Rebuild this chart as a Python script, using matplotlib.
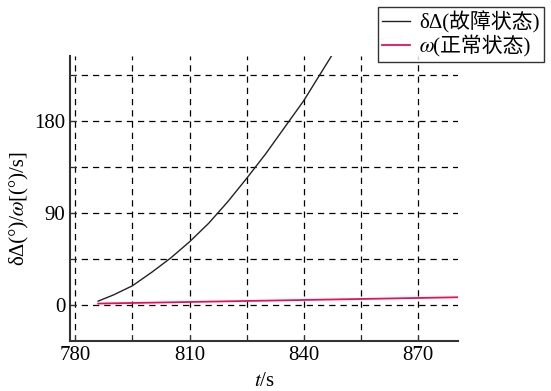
import numpy as np
import matplotlib
matplotlib.use("Agg")
import matplotlib.pyplot as plt
from matplotlib.ticker import MultipleLocator

plt.rcParams['font.family'] = ['Liberation Serif', 'STIXGeneral', 'Noto Sans CJK SC']
plt.rcParams['mathtext.fontset'] = 'stix'

# fault-state curve
t_fault = [786, 790, 795, 800, 805, 810, 815, 820, 825, 830, 835, 840, 845, 848]
d_fault = [4, 10, 19, 32, 46, 62, 80, 101, 124, 148, 174, 200, 230, 248]

# normal-state curve
t_norm = [786, 800, 820, 840, 860, 881]
w_norm = [1.6, 2.5, 3.8, 5.1, 6.4, 7.8]

OMEGA = '\U0001D714'

fig = plt.figure(figsize=(5.51, 3.91), dpi=100)
ax = fig.add_axes([70/551, 1-341/391, (458-70)/551, (341-56)/391])

ax.plot(t_fault, d_fault, color='#222222', lw=1.0, label='δΔ(故障状态)')
ax.plot(t_norm, w_norm, color='#e6105a', lw=1.3, label=OMEGA + '(正常状态)')

ax.set_xlim(778.6, 880.5)
ax.set_ylim(-35, 243.6)
ax.xaxis.set_major_locator(MultipleLocator(30))
ax.xaxis.set_minor_locator(MultipleLocator(15))
ax.yaxis.set_major_locator(MultipleLocator(90))
ax.yaxis.set_minor_locator(MultipleLocator(45))
ax.grid(True, which='both', color='black', linestyle=(0, (5, 4)), lw=0.9)
ax.tick_params(which='both', direction='in', length=4, labelsize=15, color='#333333')

for s in ['top', 'right']:
    ax.spines[s].set_visible(False)
for s in ['left', 'bottom']:
    ax.spines[s].set_linewidth(1.5)
    ax.spines[s].set_color('#333333')

ax.set_xlabel(r'$t$/s', fontsize=15, labelpad=5)
ax.set_ylabel('δΔ(°)/' + OMEGA + '[(°)/s]', fontsize=15)
ax.yaxis.set_label_coords(-0.108, 0.467)

leg = fig.legend(loc='upper left', bbox_to_anchor=(378/551, 1-7/391),
                 fontsize=15, frameon=True, fancybox=False, borderpad=0.2,
                 handlelength=1.35, handletextpad=0.45, labelspacing=0.1,
                 borderaxespad=0)
leg.get_frame().set_edgecolor('black')
leg.get_frame().set_linewidth(1.0)

fig.savefig('out.png', dpi=100)
